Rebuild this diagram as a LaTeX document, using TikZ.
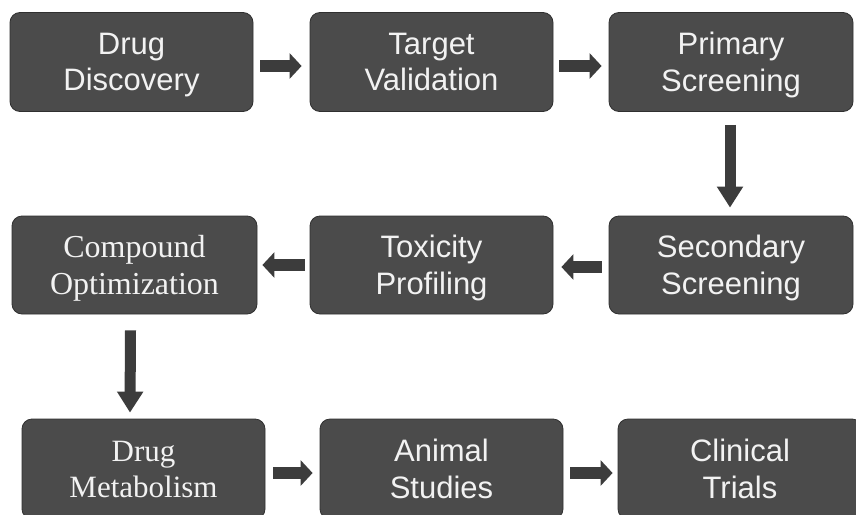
\documentclass[tikz,border=0pt]{standalone}
\usepackage{fontspec}
\usetikzlibrary{arrows.meta,calc}
\newfontfamily\arialf{Liberation Sans}
\newfontfamily\timesf{Liberation Serif}
\definecolor{boxfill}{HTML}{4B4B4B}
\definecolor{boxline}{HTML}{303030}
\definecolor{boxtext}{HTML}{F2F2F2}
\definecolor{arrowfill}{HTML}{3C3C3C}
\tikzset{
  stage/.style={rectangle, rounded corners=10pt, fill=boxfill, draw=boxline,
    line width=0.8pt, minimum width=243pt, minimum height=99pt,
    text=boxtext, align=center, inner sep=0pt, text depth=0pt},
  sanstext/.style={font=\arialf\fontsize{31}{36.5}\selectfont},
  seriftext/.style={font=\timesf\fontsize{32}{37}\selectfont},
  seriflow/.style={font=\timesf\fontsize{31}{36}\selectfont},
  sidearrow/.style={draw=arrowfill, line width=12pt, line cap=butt,
    -{Triangle[width=25pt, length=12pt, fill=arrowfill]}},
  downarrow/.style={draw=arrowfill, line width=11pt, line cap=butt,
    -{Triangle[width=25pt, length=21pt, fill=arrowfill]}}
}
\begin{document}
\begin{tikzpicture}[x=1pt, y=-1pt]
  \useasboundingbox[fill=white] (0,0) rectangle (856,514);

  % first row
  \node[stage, sanstext] (discovery) at (131.5,62) {Drug\\Discovery};
  \node[stage, sanstext] (validation) at (431.5,62) {Target\\Validation};
  \node[stage, sanstext, minimum width=244pt] (primary) at (731,62) {Primary\\Screening};

  % second row
  \node[stage, seriftext, minimum width=245pt, minimum height=98pt] (optim) at (134.5,265) {Compound\\Optimization};
  \node[stage, sanstext, minimum height=98pt] (toxicity) at (431.5,265) {Toxicity\\Profiling};
  \node[stage, sanstext, minimum width=244pt, minimum height=98pt] (secondary) at (731,265) {Secondary\\Screening};

  % third row (runs past the lower edge)
  \node[stage, seriflow, minimum height=100pt] (metab) at (143.5,469) {Drug\\Metabolism};
  \node[stage, sanstext, minimum height=100pt] (animal) at (441.5,469) {Animal\\Studies};
  \node[stage, sanstext, minimum width=244pt, minimum height=100pt] (clinical) at (740,469) {Clinical\\Trials};

  % connectors
  \draw[sidearrow] ([shift={(7,4)}]discovery.east) -- ([shift={(-8,4)}]validation.west);
  \draw[sidearrow] ([shift={(6,4)}]validation.east) -- ([shift={(-7,4)}]primary.west);
  \draw[downarrow] ([shift={(-1,13)}]primary.south) -- ([shift={(-1,-8)}]secondary.north);
  \draw[sidearrow] ([shift={(-7,2)}]secondary.west) -- ([shift={(8,2)}]toxicity.east);
  \draw[sidearrow] ([shift={(-5,0)}]toxicity.west) -- ([shift={(5,0)}]optim.east);
  \draw[downarrow] ([shift={(-4,16)}]optim.south) -- ([shift={(-13.5,-6)}]metab.north);
  \draw[sidearrow] ([shift={(8,4)}]metab.east) -- ([shift={(-7,4)}]animal.west);
  \draw[sidearrow] ([shift={(7,4)}]animal.east) -- ([shift={(-5,4)}]clinical.west);
\end{tikzpicture}
\end{document}
